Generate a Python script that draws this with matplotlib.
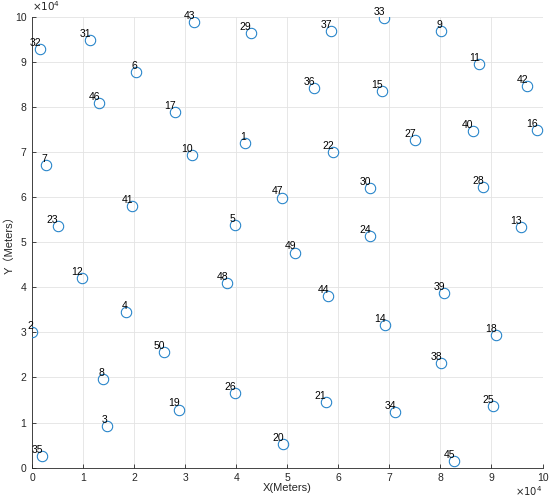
import matplotlib.pyplot as plt
from matplotlib.ticker import FuncFormatter, MultipleLocator

plt.rcParams["font.family"] = ["Liberation Sans", "Noto Sans CJK SC", "DejaVu Sans"]

# node id, x and y position in meters
node_ids = list(range(1, 51))
x_m = [41700, 0, 14600, 18500, 39700, 20400, 2800, 14000, 80100, 31300,
       87600, 9800, 95800, 69100, 68600, 98900, 28000, 90900, 28800, 49100,
       57500, 59000, 5000, 66300, 90300, 39800, 75000, 88300, 42800, 66300,
       11360, 1570, 69000, 71200, 2000, 55200, 58600, 80100, 80700, 86300,
       19600, 97000, 31700, 58000, 82700, 13100, 49000, 38200, 51600, 25900]
y_m = [72000, 30100, 9200, 34500, 53900, 87800, 67100, 19700, 96800, 69300,
       89400, 42100, 53300, 31600, 83500, 74800, 78900, 29400, 12900, 5300,
       14600, 69900, 53600, 51400, 13700, 16500, 72600, 62300, 96400, 62100,
       94900, 92800, 99600, 12400, 2600, 84100, 96900, 23300, 38700, 74700,
       58100, 84700, 98800, 38000, 1500, 80900, 59900, 41000, 47700, 25700]

SCALE = 1e4
AXIS_GRAY = "#262626"


def main() -> None:
    fig = plt.figure(figsize=(5.5, 5.01), dpi=100)
    ax = fig.add_axes([0.0582, 0.0665, 0.9282, 0.9002])

    ax.plot(x_m, y_m, "o", markersize=7.5, markerfacecolor="none",
            markeredgecolor="#1f80c8", markeredgewidth=0.75, zorder=3)
    for nid, x, y in zip(node_ids, x_m, y_m):
        ax.text(x + 200, y + 1350, str(nid), ha="right", va="center",
                fontsize=7.5, color="black", zorder=4)

    ax.set_xlim(0, 100000)
    ax.set_ylim(0, 100000)
    fmt = FuncFormatter(lambda v, _: f"{v / SCALE:g}")
    for axis in (ax.xaxis, ax.yaxis):
        axis.set_major_locator(MultipleLocator(SCALE))
        axis.set_major_formatter(fmt)

    ax.grid(True, color="#e3e3e3", linewidth=0.6)
    ax.set_axisbelow(True)
    ax.spines["top"].set_visible(False)
    ax.spines["right"].set_visible(False)
    for side in ("left", "bottom"):
        ax.spines[side].set_color(AXIS_GRAY)
        ax.spines[side].set_linewidth(0.6)
    ax.tick_params(direction="in", length=3, width=0.6, colors=AXIS_GRAY,
                   labelsize=7.5, pad=4)

    # exponent labels, MATLAB style
    ax.text(0, 1.008, r"$\times10^{4}$", transform=ax.transAxes,
            ha="left", va="bottom", fontsize=7.5, color=AXIS_GRAY)
    ax.text(1.0, -0.037, r"$\times10^{4}$", transform=ax.transAxes,
            ha="right", va="top", fontsize=7.2, color=AXIS_GRAY)

    ax.set_xlabel("X(Meters)", fontsize=8, color=AXIS_GRAY, labelpad=0)
    ax.set_ylabel("Y（Meters）", fontsize=8, color=AXIS_GRAY)
    ax.yaxis.set_label_coords(-0.034, 0.5)

    fig.savefig("out.png", dpi=100)
    plt.close(fig)


if __name__ == "__main__":
    main()
